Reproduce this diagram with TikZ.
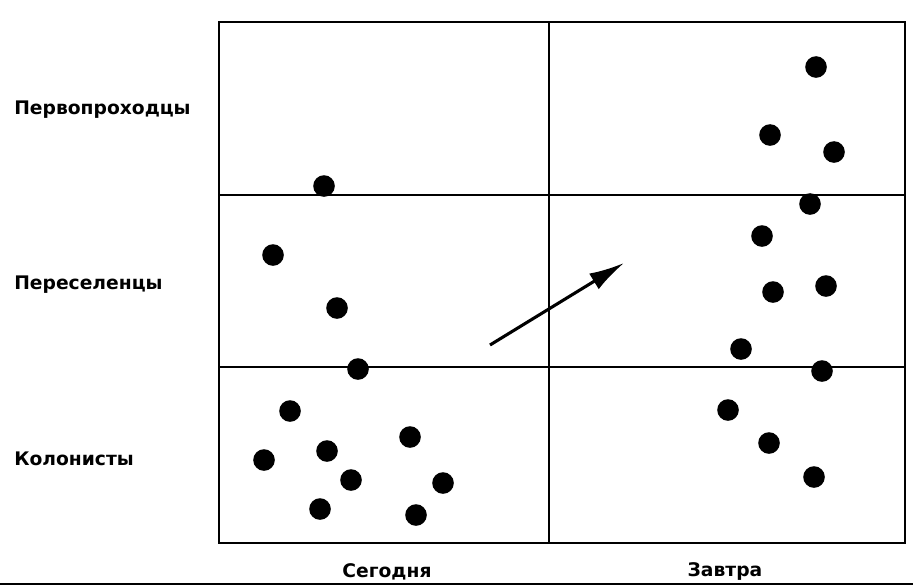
\documentclass[tikz,border=0pt]{standalone}
\usepackage{fontspec}
\setmainfont{DejaVu Sans}
\usetikzlibrary{arrows.meta,positioning}

\begin{document}
\begin{tikzpicture}[x=0.025cm,y=-0.025cm,>=Latex,
    lbl/.style={font=\bfseries\fontsize{13.3}{15}\selectfont, inner sep=0pt}]
  \useasboundingbox (0,0) rectangle (913,586);
  % grid
  \draw[line width=1.4pt] (219,22) rectangle (905,543);
  \draw[line width=1.1pt] (549,22) -- (549,543);
  \draw[line width=1.1pt] (219,195) -- (905,195);
  \draw[line width=1.1pt] (219,367) -- (905,367);
  \draw[line width=1.5pt] (0,584) -- (913,584);
  % row and column labels
  \node[lbl,anchor=west] (pioneers) at (14,110) {Первопроходцы};
  \node[lbl,anchor=west] (settlers) at (14,285) {Переселенцы};
  \node[lbl,anchor=west] (colonists) at (14,459) {Колонисты};
  \node[lbl] (today) at (387,572) {Сегодня};
  \node[lbl] (tomorrow) at (725,571) {Завтра};
  % shift
  \coordinate (start) at (490,345);
  \coordinate (finish) at (624,263);
  \draw[-{Latex[length=25pt,width=13pt]},line width=2.2pt] (start) -- (finish);
  % today
  \foreach \x/\y in {324/186,273/255,337/308,358/369,290/411,327/451,410/437,264/460,351/480,443/483,320/509,416/515} {
    \fill (\x,\y) circle[radius=0.27cm];
  }
  % tomorrow
  \foreach \x/\y in {816/67,770/135,834/152,810/204,762/236,773/292,826/286,741/349,822/371,728/410,769/443,814/477} {
    \fill (\x,\y) circle[radius=0.27cm];
  }
\end{tikzpicture}
\end{document}
